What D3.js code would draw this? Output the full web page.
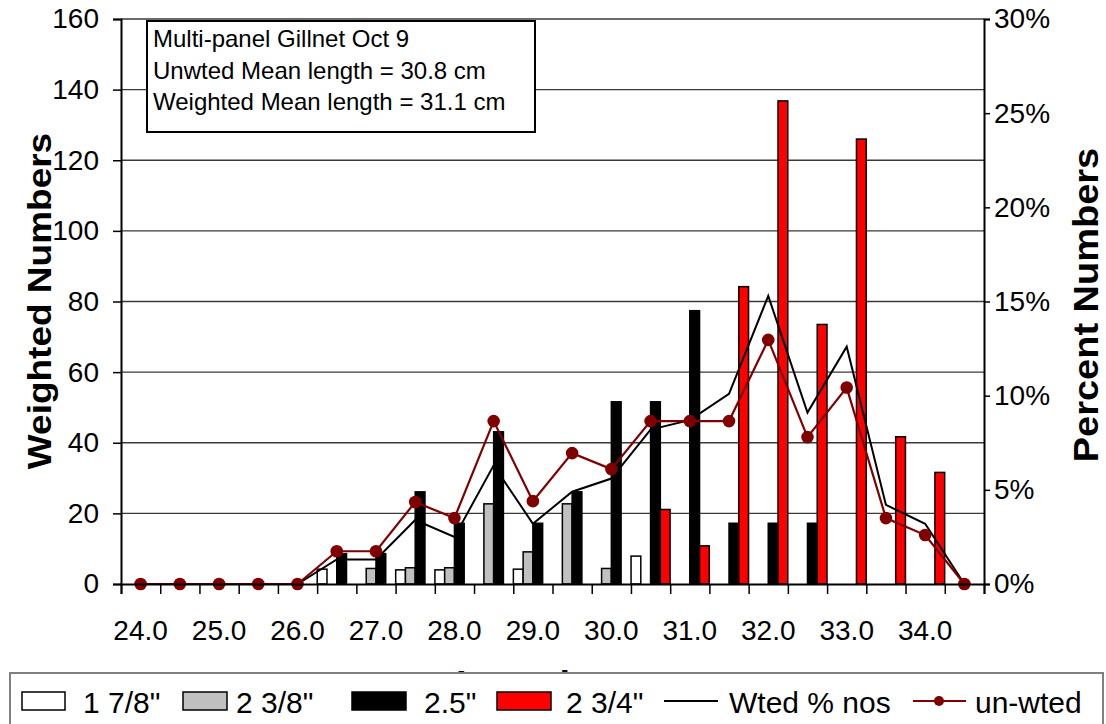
<!DOCTYPE html>
<html>
<head>
<meta charset="utf-8">
<script src="https://cdn.jsdelivr.net/npm/d3@7/dist/d3.min.js"></script>
<style>
	body { margin: 0; background: #fff; }
	text { font-family: "Liberation Sans", Arial, sans-serif; }
</style>
</head>
<body>
<div id="chart-area"></div>
<script>
// length classes (cm)
var lengths = ["24.0","24.5","25.0","25.5","26.0","26.5","27.0","27.5","28.0","28.5","29.0",
	"29.5","30.0","30.5","31.0","31.5","32.0","32.5","33.0","33.5","34.0","34.5"];
var tickLabels = ["24.0","25.0","26.0","27.0","28.0","29.0","30.0","31.0","32.0","33.0","34.0"];

// weighted numbers by mesh size
var mesh178 = [0,0,0,0,0,4.2,0,4.0,4.0,0,4.2,0,0,7.9,0,0,0,0,0,0,0,0];
var mesh238 = [0,0,0,0,0,0,4.4,4.6,4.6,22.7,9.1,22.7,4.4,0,0,0,0,0,0,0,0,0];
var mesh25  = [0,0,0,0,0,8.6,8.6,26.1,17.2,43.1,17.2,26.1,51.6,51.6,77.4,17.2,17.2,17.2,0,0,0,0];
var mesh234 = [0,0,0,0,0,0,0,0,0,0,0,0,0,21.1,10.8,84.2,136.8,73.5,126,41.7,31.6,0];

// percent numbers
var wtedPct   = [0,0,0,0,0,1.3,1.3,3.4,2.5,6.3,3.2,4.9,5.6,8.2,8.7,10.1,15.3,9.1,12.6,4.2,3.2,0];
var unwtedPct = [0,0,0,0,0,1.74,1.74,4.35,3.5,8.65,4.4,6.95,6.1,8.65,8.65,8.65,12.96,7.8,10.43,3.5,2.6,0];

var seriesNames = ['1 7/8"', '2 3/8"', '2.5"', '2 3/4"'];
var leftTicks = [0,20,40,60,80,100,120,140,160];
var rightTicks = [0,5,10,15,20,25,30];
var boxLines = ["Multi-panel Gillnet Oct 9", "Unwted Mean length = 30.8 cm", "Weighted Mean length = 31.1 cm"];

var width = 1106, height = 724;
var plotLeft = 121, plotRight = 984, plotTop = 19, plotBottom = 584;

var svg = d3.select("#chart-area").append("svg")
	.attr("width", width)
	.attr("height", height);

svg.append("rect")
	.attr("width", width)
	.attr("height", height)
	.attr("fill", "#fff");

var x = d3.scaleBand()
	.domain(lengths)
	.range([plotLeft, plotRight])
	.padding(0);
var xs = d3.scaleBand()
	.domain(seriesNames)
	.range([0, x.bandwidth()])
	.paddingInner(0)
	.paddingOuter(0.01);
var yL = d3.scaleLinear().domain([0, 160]).range([plotBottom, plotTop]);
var yR = d3.scaleLinear().domain([0, 30]).range([plotBottom, plotTop]);
var color = d3.scaleOrdinal()
	.domain(seriesNames)
	.range(["#ffffff", "#c0c0c0", "#000000", "#ff0000"]);

// gridlines
svg.append("g")
	.selectAll("line")
	.data(leftTicks.filter(d => d > 0))
	.enter().append("line")
	.attr("x1", plotLeft)
	.attr("x2", plotRight)
	.attr("y1", d => yL(d))
	.attr("y2", d => yL(d))
	.attr("stroke", "#3a3a3a")
	.attr("stroke-width", 1.4);

// x axis title, mostly covered by the legend box
svg.append("text")
	.attr("x", 456)
	.attr("y", 698)
	.style("font-size", "38px")
	.style("font-weight", "bold")
	.text("Length");

// bars
var series = [mesh178, mesh238, mesh25, mesh234];
series.forEach(function(vals, s) {
	var name = seriesNames[s];
	svg.append("g")
		.selectAll("rect")
		.data(vals.map((v, i) => ({cat: lengths[i], v: v})).filter(d => d.v > 0))
		.enter().append("rect")
		.attr("x", d => x(d.cat) + xs(name))
		.attr("y", d => yL(d.v))
		.attr("width", xs.bandwidth())
		.attr("height", d => yL(0) - yL(d.v))
		.attr("fill", color(name))
		.attr("stroke", "#000")
		.attr("stroke-width", 1.5);
});

// percent lines
var line = d3.line()
	.x((d, i) => x(lengths[i]) + x.bandwidth() / 2)
	.y(d => yR(d));

svg.append("path")
	.datum(wtedPct)
	.attr("d", line)
	.attr("fill", "none")
	.attr("stroke", "#000")
	.attr("stroke-width", 2);

svg.append("path")
	.datum(unwtedPct)
	.attr("d", line)
	.attr("fill", "none")
	.attr("stroke", "#800000")
	.attr("stroke-width", 2.2);

svg.append("g")
	.selectAll("circle")
	.data(unwtedPct)
	.enter().append("circle")
	.attr("cx", (d, i) => x(lengths[i]) + x.bandwidth() / 2)
	.attr("cy", d => yR(d))
	.attr("r", 6.3)
	.attr("fill", "#800000");

// axes
var yAxis = d3.axisLeft(yL)
	.tickValues(leftTicks)
	.tickSize(8)
	.tickPadding(14);
var gy = svg.append("g")
	.attr("transform", "translate(" + plotLeft + ",0)")
	.call(yAxis);

var yAxisR = d3.axisRight(yR)
	.tickValues(rightTicks)
	.tickFormat(d => d + "%")
	.tickSize(6)
	.tickPadding(4);
var gyr = svg.append("g")
	.attr("transform", "translate(" + plotRight + ",0)")
	.call(yAxisR);

// tick marks sit on the class boundaries
var xb = d3.scaleLinear().domain([0, lengths.length]).range([plotLeft, plotRight]);
var gxt = svg.append("g")
	.attr("transform", "translate(0," + plotBottom + ")")
	.call(d3.axisBottom(xb).tickValues(d3.range(lengths.length + 1)).tickSize(10).tickFormat(""));

var gx = svg.append("g")
	.attr("transform", "translate(0," + plotBottom + ")")
	.call(d3.axisBottom(x).tickValues(tickLabels).tickSize(0).tickPadding(36));
gx.select(".domain").remove();

[gy, gyr, gxt, gx].forEach(function(g) {
	g.selectAll("text")
		.style("font-size", "28px")
		.attr("fill", "#000");
	g.selectAll("line").attr("stroke", "#000").attr("stroke-width", 1.5);
	g.selectAll(".domain").attr("stroke", "#000").attr("stroke-width", 2);
});

// axis titles
svg.append("text")
	.attr("transform", "translate(51,301) rotate(-90) scale(1,0.9)")
	.attr("text-anchor", "middle")
	.style("font-size", "37px")
	.style("font-weight", "bold")
	.text("Weighted Numbers");

svg.append("text")
	.attr("transform", "translate(1098,305) rotate(-90) scale(1,0.9)")
	.attr("text-anchor", "middle")
	.style("font-size", "38px")
	.style("font-weight", "bold")
	.text("Percent Numbers");

// info box
svg.append("rect")
	.attr("x", 147)
	.attr("y", 21)
	.attr("width", 388)
	.attr("height", 111)
	.attr("fill", "#fff")
	.attr("stroke", "#000")
	.attr("stroke-width", 2);

svg.append("g")
	.selectAll("text")
	.data(boxLines)
	.enter().append("text")
	.attr("x", 153)
	.attr("y", (d, i) => 47 + i * 31.5)
	.style("font-size", "24px")
	.text(d => d);

// legend
var lg = svg.append("g");
lg.append("rect")
	.attr("x", 10)
	.attr("y", 673)
	.attr("width", 1093)
	.attr("height", 60)
	.attr("fill", "#fff")
	.attr("stroke", "#808080")
	.attr("stroke-width", 2);

var swatchX = [22, 183, 352, 497];
var swatchW = [43, 44, 54, 54];
var labelX = [83, 236, 424, 566];
seriesNames.forEach(function(name, i) {
	lg.append("rect")
		.attr("x", swatchX[i])
		.attr("y", 692)
		.attr("width", swatchW[i])
		.attr("height", 18)
		.attr("fill", color(name))
		.attr("stroke", "#000")
		.attr("stroke-width", 1.5);
	lg.append("text")
		.attr("x", labelX[i])
		.attr("y", 713)
		.style("font-size", "30px")
		.text(name);
});

lg.append("line")
	.attr("x1", 664).attr("x2", 718)
	.attr("y1", 701).attr("y2", 701)
	.attr("stroke", "#000")
	.attr("stroke-width", 2);
lg.append("text")
	.attr("x", 729)
	.attr("y", 713)
	.style("font-size", "30px")
	.text("Wted % nos");

lg.append("line")
	.attr("x1", 913).attr("x2", 966)
	.attr("y1", 701).attr("y2", 701)
	.attr("stroke", "#800000")
	.attr("stroke-width", 2);
lg.append("circle")
	.attr("cx", 939)
	.attr("cy", 701)
	.attr("r", 5)
	.attr("fill", "#800000");
lg.append("text")
	.attr("x", 975)
	.attr("y", 713)
	.style("font-size", "30px")
	.text("un-wted");
</script>
</body>
</html>
